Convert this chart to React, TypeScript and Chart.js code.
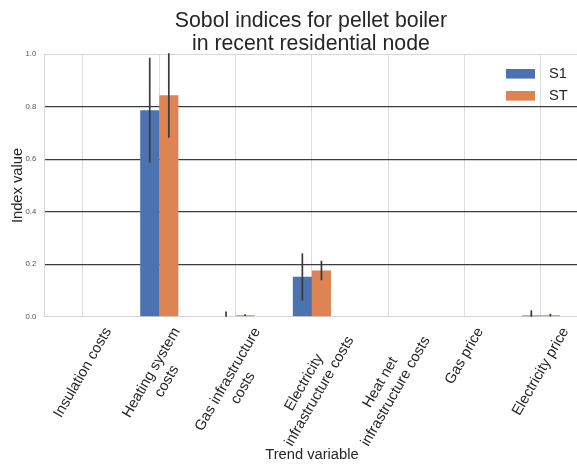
import React, { useEffect, useRef } from 'react';
import { Chart, registerables } from 'chart.js';

Chart.register(...registerables);

const titleLines = ['Sobol indices for pellet boiler', 'in recent residential node'];
const categories = [
  'Insulation costs',
  'Heating system\ncosts',
  'Gas infrastructure\ncosts',
  'Electricity\ninfrastructure costs',
  'Heat net\ninfrastructure costs',
  'Gas price',
  'Electricity price',
];
const seriesNames = ['S1', 'ST'];
const s1Values = [0, 0.787, 0, 0.152, 0, 0, 0.005];
const s1Errors = [0, 0.2, 0.02, 0.09, 0, 0, 0.02];
const stValues = [0, 0.844, 0.006, 0.176, 0, 0, 0.006];
const stErrors = [0, 0.162, 0.003, 0.037, 0, 0, 0.005];
const yTicks = [0, 0.2, 0.4, 0.6, 0.8, 1.0];
const xAxisLabel = 'Trend variable';
const yAxisLabel = 'Index value';

const FONT = "'Liberation Sans', Arial, Helvetica, sans-serif";
const TEXT = '#262626';
const BLUE = '#4C72B0';
const ORANGE = '#DD8452';

const errorSets = [s1Errors, stErrors];

const decorPlugin = {
  id: 'decor',
  afterDatasetsDraw(chart: any) {
    const ctx = chart.ctx;
    const y = chart.scales.y;
    const area = chart.chartArea;
    ctx.save();
    ctx.beginPath();
    ctx.rect(area.left, area.top - 1, area.right - area.left, area.bottom - area.top + 1);
    ctx.clip();
    ctx.strokeStyle = '#3a3a3a';
    ctx.lineWidth = 1.7;
    chart.data.datasets.forEach((ds: any, d: number) => {
      const meta = chart.getDatasetMeta(d);
      const errs = errorSets[d];
      meta.data.forEach((bar: any, i: number) => {
        const e = errs[i];
        if (!e) return;
        const v = ds.data[i];
        const yTop = y.getPixelForValue(v + e);
        const yBot = y.getPixelForValue(v - e);
        ctx.beginPath();
        ctx.moveTo(bar.x, yTop);
        ctx.lineTo(bar.x, yBot);
        ctx.stroke();
      });
    });
    ctx.restore();
  },
  afterDraw(chart: any) {
    const ctx = chart.ctx;
    const area = chart.chartArea;
    const xs = chart.scales.x;
    ctx.save();
    // Title
    ctx.fillStyle = TEXT;
    ctx.font = `21.3px ${FONT}`;
    ctx.textAlign = 'center';
    ctx.textBaseline = 'alphabetic';
    const cx = (area.left + area.right) / 2;
    titleLines.forEach((line, i) => {
      ctx.fillText(line, cx - 1, 26.7 + i * 23.4);
    });

    // Legend
    ctx.font = `14.7px ${FONT}`;
    ctx.textAlign = 'left';
    ctx.textBaseline = 'middle';
    chart.data.datasets.forEach((ds: any, d: number) => {
      const rowY = area.top + 19.5 + d * 22;
      const boxRight = area.right - 44;
      ctx.fillStyle = ds.backgroundColor;
      ctx.fillRect(boxRight - 29, rowY - 4.8, 29, 9.6);
      ctx.fillStyle = TEXT;
      ctx.fillText(ds.label, boxRight + 14, rowY + 0.5);
    });

    // Rotated x tick labels (centred on tick, like matplotlib ha=center)
    const fs = 14.7;
    const lh = fs * 1.2;
    ctx.font = `${fs}px ${FONT}`;
    ctx.textAlign = 'center';
    ctx.textBaseline = 'middle';
    ctx.fillStyle = TEXT;
    const ang = Math.PI / 3;
    chart.data.labels.forEach((label: string, i: number) => {
      const lines = label.split('\n');
      const w = Math.max(...lines.map((l) => ctx.measureText(l).width));
      const h = (lines.length - 1) * lh + fs * 1.12;
      const H = w * Math.sin(ang) + h * Math.cos(ang);
      const tx = xs.getPixelForValue(i);
      const top = area.bottom + 7.5;
      ctx.save();
      ctx.translate(tx - 1, top + H / 2);
      ctx.rotate(-ang);
      lines.forEach((l, j) => {
        ctx.fillText(l, 0, (j - (lines.length - 1) / 2) * lh + 1);
      });
      ctx.restore();
    });
    ctx.restore();
  },
};

export default function App() {
  const ref = useRef<HTMLCanvasElement | null>(null);
  useEffect(() => {
    if (!ref.current) return;
    const chart = new Chart(ref.current, {
      type: 'bar',
      data: {
        labels: categories,
        datasets: [
          {
            label: seriesNames[0],
            data: s1Values,
            backgroundColor: BLUE,
            borderWidth: 0,
            categoryPercentage: 0.5,
            barPercentage: 1.0,
          },
          {
            label: seriesNames[1],
            data: stValues,
            backgroundColor: ORANGE,
            borderWidth: 0,
            categoryPercentage: 0.5,
            barPercentage: 1.0,
          },
        ],
      },
      options: {
        responsive: false,
        animation: false,
        devicePixelRatio: 1,
        layout: { padding: { top: 54.3, right: 1, bottom: 0, left: 0 } },
        plugins: {
          legend: { display: false },
          title: { display: false },
          tooltip: { enabled: false },
        },
        scales: {
          x: {
            type: 'category',
            offset: true,
            grid: {
              display: true,
              offset: false,
              color: '#dddddd',
              lineWidth: 1,
              drawTicks: false,
            },
            border: { display: true, color: '#d6d6d6', width: 1 },
            ticks: { display: false },
            title: {
              display: true,
              text: xAxisLabel,
              color: TEXT,
              font: { family: FONT, size: 14.7 },
              padding: { top: 0, bottom: 2 },
            },
            afterFit(scale: any) {
              scale.height = 149.3;
            },
          },
          y: {
            min: 0,
            max: 1,
            afterBuildTicks(scale: any) {
              scale.ticks = yTicks.map((v) => ({ value: v }));
            },
            grid: {
              drawTicks: false,
              color: (c: any) =>
                c.tick && (c.tick.value === 0 || c.tick.value === 1) ? '#d6d6d6' : '#3c3c3c',
              lineWidth: (c: any) =>
                c.tick && (c.tick.value === 0 || c.tick.value === 1) ? 1 : 1.3,
            },
            border: { display: true, color: '#d6d6d6', width: 1 },
            ticks: {
              color: '#555555',
              font: { family: FONT, size: 7.8 },
              padding: 8.5,
              callback: (v: any) => Number(v).toFixed(1),
            },
            title: {
              display: true,
              text: yAxisLabel,
              color: TEXT,
              font: { family: FONT, size: 14.7 },
              padding: { top: 9, bottom: 0 },
            },
            afterFit(scale: any) {
              scale.width = 44.8;
            },
          },
        },
      },
      plugins: [decorPlugin],
    });
    return () => chart.destroy();
  }, []);

  return (
    <div
      style={{
        position: 'fixed',
        left: 0,
        top: 0,
        width: 577,
        height: 466,
        overflow: 'hidden',
        background: '#ffffff',
      }}
    >
      <canvas ref={ref} width={580} height={466} style={{ width: 580, height: 466, display: 'block' }} />
    </div>
  );
}
